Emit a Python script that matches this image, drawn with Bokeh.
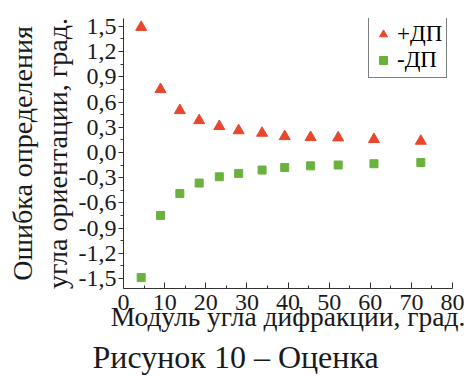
from bokeh.plotting import figure
from bokeh.models import (Range1d, FixedTicker, CustomJSTickFormatter, Legend, LegendItem, Title)
from bokeh.embed import file_html
from bokeh.resources import INLINE

# --- data ---
angles = [4.3, 9.0, 13.7, 18.4, 23.3, 28.0, 33.7, 39.2, 45.5, 52.2, 60.9, 72.3]
err_plus = [1.49, 0.75, 0.50, 0.38, 0.31, 0.26, 0.23, 0.19, 0.18, 0.175, 0.155, 0.135]
err_minus = [-1.49, -0.75, -0.49, -0.365, -0.29, -0.25, -0.21, -0.18, -0.16, -0.15, -0.135, -0.12]
x_ticks = [0, 10, 20, 30, 40, 50, 60, 70, 80]
x_minor = [5, 15, 25, 35, 45, 55, 65, 75]
y_ticks = [-1.5, -1.2, -0.9, -0.6, -0.3, 0.0, 0.3, 0.6, 0.9, 1.2, 1.5]
y_minor = [-1.35, -1.05, -0.75, -0.45, -0.15, 0.15, 0.45, 0.75, 1.05, 1.35]
series_names = ["+ДП", "-ДП"]
x_title = "Модуль угла дифракции, град."
y_title_1 = "Ошибка определения"
y_title_2 = "угла ориентации, град."
caption = "Рисунок 10 – Оценка"

FONT = "Liberation Serif"
RED = "#E8472E"
GREEN = "#6AB23D"
INK = "#1a1a1a"

p = figure(width=468, height=376, output_backend="svg", toolbar_location=None,
           x_range=Range1d(0, 80), y_range=Range1d(-1.62, 1.594),
           min_border_left=123, min_border_right=16, min_border_top=18, min_border_bottom=88)
p.outline_line_color = None
p.grid.grid_line_color = None
p.background_fill_color = "white"
p.border_fill_color = "white"

# x axis
xa = p.xaxis[0]
xa.ticker = FixedTicker(ticks=x_ticks, minor_ticks=x_minor)
xa.major_tick_in = 6
xa.major_tick_out = 0
xa.minor_tick_in = 3
xa.minor_tick_out = 0
xa.axis_line_color = "#333333"
xa.major_tick_line_color = "#333333"
xa.minor_tick_line_color = "#333333"
xa.major_label_text_font = FONT
xa.major_label_text_font_size = "24px"
xa.major_label_text_color = INK
xa.major_label_standoff = 6
xa.axis_label = x_title
xa.axis_label_text_font = FONT
xa.axis_label_text_font_size = "27.5px"
xa.axis_label_text_font_style = "normal"
xa.axis_label_text_color = INK
xa.axis_label_standoff = -12

# y axis
ya = p.yaxis[0]
ya.ticker = FixedTicker(ticks=y_ticks, minor_ticks=y_minor)
ya.formatter = CustomJSTickFormatter(code="return tick.toFixed(1).replace('.', ',');")
ya.major_tick_in = 0
ya.major_tick_out = 5
ya.minor_tick_in = 0
ya.minor_tick_out = 3
ya.axis_line_color = "#333333"
ya.major_tick_line_color = "#333333"
ya.minor_tick_line_color = "#333333"
ya.major_label_text_font = FONT
ya.major_label_text_font_size = "24px"
ya.major_label_text_color = INK
ya.major_label_standoff = 2
ya.axis_label = y_title_1 + "\n" + y_title_2
ya.axis_label_text_font = FONT
ya.axis_label_text_font_size = "28px"
ya.axis_label_text_font_style = "normal"
ya.axis_label_text_color = INK
ya.axis_label_text_line_height = 1.12
ya.axis_label_standoff = 3

r1 = p.scatter(angles, err_plus, marker="triangle", size=11, fill_color=RED, line_color=RED)
r2 = p.scatter(angles, err_minus, marker="square", size=8, fill_color=GREEN, line_color=GREEN)

legend = Legend(items=[LegendItem(label=series_names[0], renderers=[r1]),
                       LegendItem(label=series_names[1], renderers=[r2])],
                location=(245, 210), padding=4, spacing=0, margin=0,
                glyph_width=20, glyph_height=20, label_standoff=4,
                label_text_font=FONT, label_text_font_size="23px", label_text_color="black",
                border_line_color="black", border_line_width=1.5,
                background_fill_color="white", background_fill_alpha=1.0)
p.add_layout(legend, "center")

cap = Title(text=caption, align="left", offset=-31, standoff=4,
            text_font=FONT, text_font_size="32px", text_font_style="normal", text_color=INK)
p.add_layout(cap, "below")

open("out.html", "w").write(file_html(p, INLINE))
